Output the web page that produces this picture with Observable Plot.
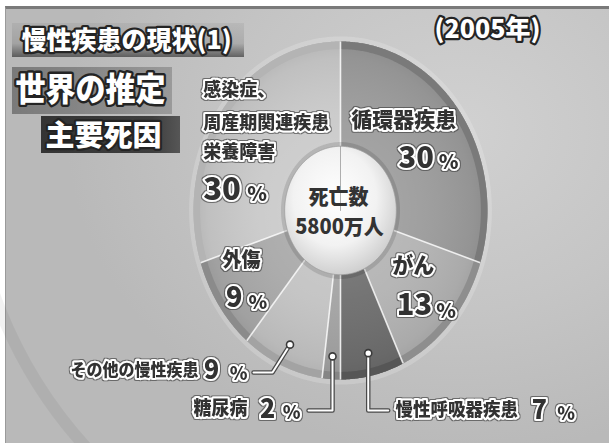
<!DOCTYPE html>
<html lang="ja">
<head>
<meta charset="utf-8">
<script src="https://cdn.jsdelivr.net/npm/d3@7"></script>
<script src="https://cdn.jsdelivr.net/npm/@observablehq/plot@0.6"></script>
<style>
html,body{margin:0;padding:0;background:#fff;}
#wrap{position:relative;width:609px;height:443px;overflow:hidden;background:#fff;}
#bg{position:absolute;left:5px;top:6px;right:0;bottom:0;border-top:3px solid #7a7a7a;border-left:1px solid #9a9a9a;
  background:radial-gradient(ellipse 65% 75% at 75% 28%, #d1d1d1 0%, #c5c5c5 55%, #b9b9b9 100%);}
#arc{position:absolute;left:-45px;top:-335px;width:930px;height:930px;border-radius:50%;box-sizing:border-box;
  border:12px solid rgba(0,0,0,0.05);}
.box{position:absolute;}
#b1{left:12px;top:23px;width:232px;height:34px;background:linear-gradient(to bottom, rgba(0,0,0,0.05), rgba(0,0,0,0.12) 60%, rgba(0,0,0,0.5));}
#b2{left:12px;top:67px;width:160px;height:47px;background:linear-gradient(to right, rgba(0,0,0,0.34), rgba(0,0,0,0.2));}
#b3{left:41px;top:116px;width:139px;height:37px;background:linear-gradient(to right,#343434,#3e3e3e 80%,#565656);}
#chart{position:absolute;left:0;top:0;}
</style>
</head>
<body>
<div id="wrap">
  <div id="bg"><div id="arc"></div></div>
  <div id="b1" class="box"></div>
  <div id="b2" class="box"></div>
  <div id="b3" class="box"></div>
  <div id="chart"></div>
</div>
<script>
// ---------- data ----------
const labelLines = [["循環器疾患"], ["がん"], ["慢性呼吸器疾患"], ["糖尿病"], ["その他の慢性疾患"], ["外傷"], ["感染症、", "周産期関連疾患", "栄養障害"]];
const causes = labelLines.map(l => l.join(""));
const shares = [30, 13, 7, 2, 9, 9, 30];
const centerLines = ["死亡数", "5800万人"];
const titleText = "慢性疾患の現状(1)";
const headlineLines = ["世界の推定", "主要死因"];
const yearText = "(2005年)";
const pctUnit = "%";

// ---------- styles ----------
const sliceFill = ["#9c9c9c", "#b3b3b3", "#6e6e6e", "#a3a3a3", "#c3c3c3", "#a9a9a9", "#cacaca"];
const rimFill   = ["#7a7a7a", "#8e8e8e", "#565656", "#858585", "#a3a3a3", "#8b8b8b", "#b4b4b4"];
const FONT = '"Noto Sans CJK JP","Noto Sans CJK SC",sans-serif';

// ---------- geometry ----------
const W = 609, H = 443, CX = 340, CY = 210, RX = 147, RY = 169;
const xDomain = [-CX / RX, (W - CX) / RX];
const yDomain = [-(H - CY) / RY, CY / RY];
const rad = d => d * Math.PI / 180;
const polar = (deg, r) => ({x: r * Math.sin(rad(deg)), y: r * Math.cos(rad(deg))});
const total = d3.sum(shares);
let acc = 0;
const slices = shares.map((v, i) => {
  const a0 = acc / total * 360; acc += v; const a1 = acc / total * 360;
  return {i, name: causes[i], value: v, a0, a1, mid: (a0 + a1) / 2};
});
function ring(key, a0, a1, r0, r1, fill) {
  const n = Math.max(2, Math.ceil((a1 - a0) / 0.5)), pts = [];
  for (let k = 0; k <= n; k++) pts.push({key, fill, ...polar(a0 + (a1 - a0) * k / n, r1)});
  if (r0 === 0) pts.push({key, fill, x: 0, y: 0});
  else for (let k = n; k >= 0; k--) pts.push({key, fill, ...polar(a0 + (a1 - a0) * k / n, r0)});
  return pts;
}
const off = (p, dx, dy) => ({x: p.x + dx / RX, y: p.y - dy / RY});

const wedges = slices.flatMap(s => ring("w" + s.i, s.a0, s.a1, 0, 1, sliceFill[s.i]));
const rims = slices.flatMap(s => ring("r" + s.i, s.a0, s.a1, 0.955, 1, rimFill[s.i]));
const seps = slices.map(s => { const p = polar(s.a0, 1); return {x1: 0, y1: 0, x2: p.x, y2: p.y}; });

// ---------- text helpers ----------
const textFx = new Map();
function label(pt, text, o) {
  const {dx = 0, dy = 0, size = 20, ta = "middle", fill = "#333", halo = 4, sy = 1.05} = o;
  textFx.set(text, {sy, edge: halo > 0});
  const d = [{x: pt.x, y: pt.y, t: text}];
  const opts = {x: "x", y: "y", text: "t", dx, dy, fontSize: size, textAnchor: ta, lineAnchor: "middle",
                fontFamily: FONT, fontWeight: 900, fill};
  if (halo) Object.assign(opts, {stroke: "white", strokeWidth: halo, strokeLinejoin: "round"});
  return Plot.text(d, opts);
}
function title(text, o) {
  const {dx, dy, size, sy = 1} = o;
  textFx.set(text, {sy, edge: false});
  return Plot.text([text], {frameAnchor: "top-left", text: d => d, dx, dy, fontSize: size, textAnchor: "start",
    lineAnchor: "middle", fontFamily: FONT, fontWeight: 900, fill: "white", stroke: "#242424",
    strokeWidth: 4.5, strokeLinejoin: "round"});
}

const labels = [];
const O = {x: 0, y: 0};
const anchorIn = s => polar(s.mid, 0.65);
// centre
labels.push(label(O, centerLines[0], {dx: -2, dy: -13, size: 20, halo: 0}));
labels.push(label(O, centerLines[1], {dx: -1, dy: 17, size: 20, halo: 0}));
// 循環器疾患
{ const a = anchorIn(slices[0]);
  labels.push(label(a, labelLines[0][0], {dx: -14, dy: -25.5, size: 21, sy: 1}));
  labels.push(label(a, String(shares[0]), {dx: 16, dy: 12.5, size: 29, ta: "end", sy: 1}));
  labels.push(label(a, pctUnit, {dx: 21, dy: 17, size: 20, ta: "start", sy: 1})); }
// がん
{ const a = anchorIn(slices[1]);
  labels.push(label(a, labelLines[1][0], {dx: 1, dy: -17, size: 21}));
  labels.push(label(a, String(shares[1]), {dx: 20, dy: 23, size: 29, ta: "end", sy: 1}));
  labels.push(label(a, pctUnit, {dx: 24, dy: 28, size: 20, ta: "start", sy: 1})); }
// 外傷
{ const a = anchorIn(slices[5]);
  labels.push(label(a, labelLines[5][0], {dx: -20, dy: -12, size: 19}));
  labels.push(label(a, String(shares[5]), {dx: -19, dy: 26, size: 27, ta: "end", sy: 1}));
  labels.push(label(a, pctUnit, {dx: -13, dy: 31, size: 19, ta: "start", sy: 1})); }
// 感染症…
{ const a = anchorIn(slices[6]);
  [-56, -23, 6].forEach((dy, k) => labels.push(label(a, labelLines[6][k], {dx: -60, dy, size: 18, ta: "start", sy: 1})));
  labels.push(label(a, String(shares[6]), {dx: -60, dy: 44, size: 31, ta: "start", sy: 1}));
  labels.push(label(a, pctUnit, {dx: -16, dy: 48.5, size: 20, ta: "start", sy: 1})); }

// outside labels with leader lines
const DOT_R = 0.865;
const outside = [
  {i: 4, path: [[0, 0], [-17.5, 27.8], [-36.5, 27.8]], name: {dx: -91.5, dy: 26, size: 16, ta: "end"}, num: {dx: -78.5, dy: 26}, pct: {dx: -51.5, dy: 30}},
  {i: 3, path: [[0, 0], [0, 54], [-24, 54]], name: {dx: -85, dy: 53, size: 18, ta: "end"}, num: {dx: -65, dy: 53}, pct: {dx: -41, dy: 57}},
  {i: 2, path: [[0, 0], [0, 57.3], [20, 57.3]], name: {dx: 27.3, dy: 57, size: 17.5, ta: "start"}, num: {dx: 171, dy: 57}, pct: {dx: 198, dy: 61}}
];
const dots = [], leaders = [];
for (const o of outside) {
  const p = polar(slices[o.i].mid, DOT_R);
  dots.push(p);
  o.path.forEach(([dx, dy]) => leaders.push({key: o.i, ...off(p, dx, dy)}));
  labels.push(label(p, labelLines[o.i][0], o.name));
  labels.push(label(p, String(shares[o.i]), {...o.num, size: 25, sy: 1.05}));
  labels.push(label(p, pctUnit, {...o.pct, size: 18, sy: 1}));
}

const plot = Plot.plot({
  width: W, height: H, margin: 0,
  style: {background: "transparent", overflow: "visible"},
  x: {domain: xDomain, axis: null},
  y: {domain: yDomain, axis: null},
  color: {type: "identity"},
  marks: [
    Plot.line(ring("halo", 0, 360, 1, 1.03, ""), {x: "x", y: "y", fill: "rgba(255,255,255,0.18)", stroke: "none"}),
    Plot.line(wedges, {x: "x", y: "y", z: "key", fill: "fill", stroke: "none"}),
    Plot.line(ring("shade", 0, 360, 0, 1, ""), {x: "x", y: "y", fill: "url(#pieShade)", stroke: "none"}),
    Plot.line(rims, {x: "x", y: "y", z: "key", fill: "fill", stroke: "none"}),
    Plot.link(seps, {x1: "x1", y1: "y1", x2: "x2", y2: "y2", stroke: "white", strokeOpacity: 0.8, strokeWidth: 1.6}),
    Plot.line(ring("ds", 0, 360, 0, 0.405, ""), {x: "x", y: "y", fill: "rgba(0,0,0,0.12)", stroke: "none"}),
    Plot.line(ring("disc", 0, 360, 0, 0.38, ""), {x: "x", y: "y", fill: "url(#discGrad)", stroke: "#9a9a9a", strokeWidth: 0.8}),
    Plot.line(leaders, {x: "x", y: "y", z: "key", stroke: "#4a4a4a", strokeWidth: 4.5, strokeLinejoin: "round"}),
    Plot.line(leaders, {x: "x", y: "y", z: "key", stroke: "white", strokeWidth: 2, strokeLinejoin: "round"}),
    Plot.dot(dots, {x: "x", y: "y", r: 3.5, fill: "white", stroke: "#3a3a3a", strokeWidth: 1.6}),
    ...labels,
    title(titleText, {dx: 21, dy: 40, size: 25}),
    title(headlineLines[0], {dx: 15, dy: 90, size: 30, sy: 1.1}),
    title(headlineLines[1], {dx: 45, dy: 136, size: 29}),
    title(yearText, {dx: 434, dy: 29, size: 25})
  ]
});

plot.insertAdjacentHTML("afterbegin", `<defs>
<radialGradient id="pieShade" cx="0.5" cy="0.5" r="0.5">
 <stop offset="0" stop-color="#fff" stop-opacity="0.16"/>
 <stop offset="0.55" stop-color="#fff" stop-opacity="0.04"/>
 <stop offset="0.9" stop-color="#000" stop-opacity="0.05"/>
 <stop offset="1" stop-color="#000" stop-opacity="0.1"/>
</radialGradient>
<radialGradient id="discGrad" cx="0.45" cy="0.4" r="0.62">
 <stop offset="0" stop-color="#ffffff"/>
 <stop offset="0.6" stop-color="#f2f2f2"/>
 <stop offset="1" stop-color="#cdcdcd"/>
</radialGradient>
<filter id="edge" x="-20%" y="-30%" width="140%" height="160%">
 <feMorphology in="SourceAlpha" operator="dilate" radius="1.3" result="d"/>
 <feFlood flood-color="#474747" flood-opacity="0.7"/>
 <feComposite in2="d" operator="in" result="o"/>
 <feMerge><feMergeNode in="o"/><feMergeNode in="SourceGraphic"/></feMerge>
</filter></defs>`);

for (const t of plot.querySelectorAll("text")) {
  const fx = textFx.get(t.textContent);
  if (!fx) continue;
  if (fx.edge) t.setAttribute("filter", "url(#edge)");
  const s = fx.sy;
  if (!s || s === 1) continue;
  const tr = t.getAttribute("transform");
  if (tr) t.setAttribute("transform", tr + ` scale(1,${s})`);
  else {
    const x = +t.getAttribute("x") || 0, y = +t.getAttribute("y") || 0;
    t.setAttribute("transform", `translate(${x},${y}) scale(1,${s}) translate(${-x},${-y})`);
  }
}
document.getElementById("chart").appendChild(plot);
</script>
</body>
</html>
